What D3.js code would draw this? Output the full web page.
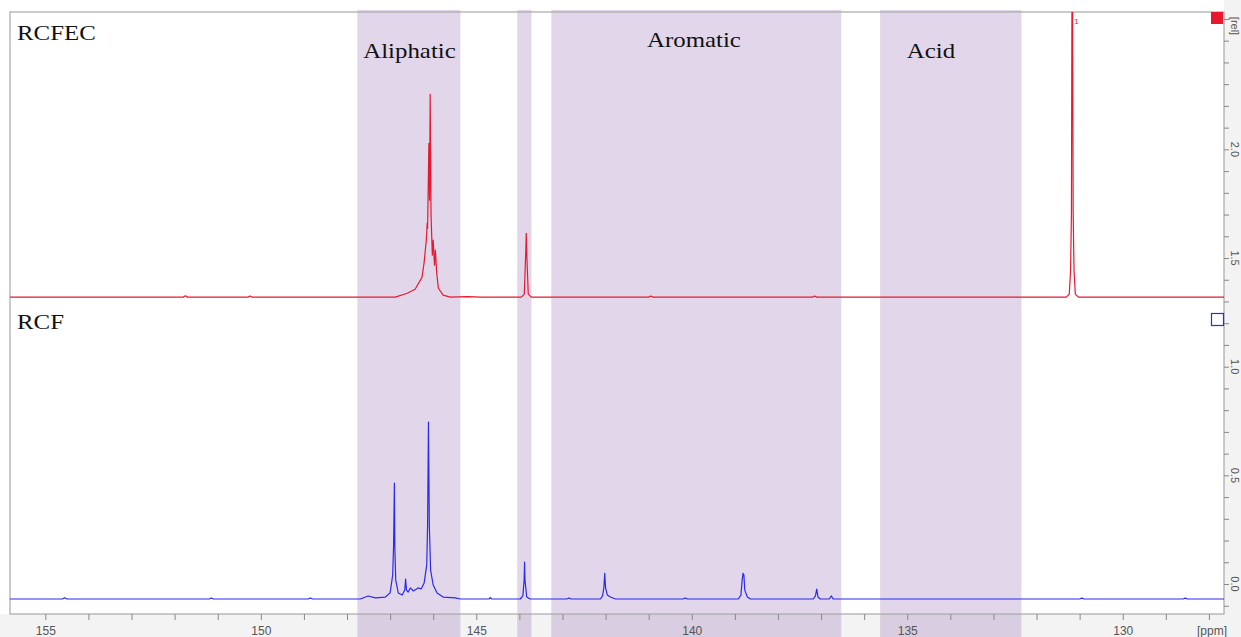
<!DOCTYPE html>
<html>
<head>
<meta charset="utf-8">
<script src="https://cdn.jsdelivr.net/npm/d3@7"></script>
<style>
  html, body { margin: 0; padding: 0; background: #fff; }
  svg { display: block; }
  .serif { font-family: "Liberation Serif", "Times New Roman", serif; fill: #111; }
  .tick text, .axlab { font-family: "Liberation Sans", Arial, sans-serif; fill: #555; font-size: 12px; }
  .ylab { font-family: "Liberation Sans", Arial, sans-serif; fill: #555; font-size: 11px; }
</style>
</head>
<body>
<svg id="chart" width="1241" height="637"></svg>
<script>
// Shaded chemical-shift regions (ppm)
const bandFrom   = [147.76, 144.05, 143.26, 135.63];
const bandTo     = [145.37, 143.72, 136.53, 132.35];
const bandNames  = ["Aliphatic", "", "Aromatic", "Acid"];
const bandLabelPpm = [146.55, null, 139.95, 134.45];
const bandLabelRel = [1.42, null, 1.47, 1.42];

// RCFEC trace (ppm, rel), stacked above RCF
const rcfec = [
  [155.82, 1.320], [151.8, 1.320], [151.75, 1.326], [151.7, 1.320], [150.3, 1.320], [150.25, 1.325],
  [150.2, 1.320], [146.88, 1.320], [146.60, 1.338], [146.42, 1.356], [146.26, 1.411], [146.21, 1.480],
  [146.16, 1.582], [146.14, 1.660], [146.13, 1.637], [146.10, 2.028], [146.085, 1.766], [146.07, 2.253],
  [146.05, 1.697], [146.02, 1.513], [146.00, 1.582], [145.97, 1.467], [145.95, 1.536], [145.92, 1.434],
  [145.88, 1.361], [145.77, 1.329], [145.60, 1.320], [145.2, 1.322], [144.9, 1.320],
  [143.956, 1.320], [143.886, 1.334], [143.851, 1.536], [143.840, 1.614], [143.828, 1.513],
  [143.794, 1.334], [143.724, 1.320], [141.0, 1.320], [140.95, 1.325], [140.9, 1.320],
  [137.2, 1.320], [137.15, 1.325], [137.1, 1.320], [131.31, 1.320], [131.24, 1.334], [131.21, 1.444],
  [131.19, 1.706], [131.172, 3.200], [131.15, 1.706], [131.13, 1.444], [131.10, 1.334], [131.03, 1.320],
  [127.65, 1.320]
];

// RCF trace (ppm, rel)
const rcf = [
  [155.82, -0.069], [154.6, -0.069], [154.55, -0.063], [154.5, -0.069], [151.2, -0.069], [151.15, -0.064],
  [151.1, -0.069], [148.9, -0.069], [148.85, -0.064], [148.8, -0.069],
  [147.69, -0.069], [147.51, -0.055], [147.34, -0.064], [147.11, -0.060], [147.00, -0.041],
  [146.94, 0.041], [146.92, 0.170], [146.90, 0.464], [146.89, 0.170], [146.87, 0.018], [146.81, -0.041],
  [146.72, -0.051], [146.66, -0.028], [146.64, 0.023], [146.62, -0.028], [146.58, -0.037],
  [146.53, -0.018], [146.46, -0.032], [146.35, -0.018], [146.28, -0.023], [146.21, 0.005],
  [146.15, 0.087], [146.13, 0.271], [146.11, 0.745], [146.09, 0.271], [146.06, 0.064], [146.00, -0.005],
  [145.91, -0.041], [145.77, -0.060], [145.49, -0.064], [145.37, -0.069], [144.70, -0.069],
  [144.68, -0.062], [144.64, -0.069], [143.98, -0.069], [143.92, -0.055], [143.89, 0.018],
  [143.88, 0.101], [143.87, 0.018], [143.83, -0.060], [143.75, -0.069], [142.9, -0.069],
  [142.85, -0.064], [142.8, -0.069], [142.12, -0.069], [142.07, -0.055], [142.04, -0.018],
  [142.02, 0.049], [142.00, -0.018], [141.96, -0.051], [141.89, -0.060], [141.77, -0.069],
  [140.2, -0.069], [140.15, -0.064], [140.1, -0.069], [138.92, -0.069], [138.86, -0.051],
  [138.83, 0.018], [138.81, 0.049], [138.79, 0.041], [138.77, -0.028], [138.71, -0.060],
  [138.64, -0.069], [137.18, -0.069], [137.13, -0.055], [137.10, -0.023], [137.07, -0.060],
  [137.02, -0.069], [136.81, -0.069], [136.76, -0.055], [136.72, -0.069], [131.0, -0.069],
  [130.95, -0.065], [130.9, -0.069], [128.6, -0.069], [128.55, -0.065], [128.5, -0.069], [127.65, -0.069]
];

const ppmTicks = d3.range(128, 156);
const relTicks = d3.range(-1, 27).map(i => i / 10);
const relLabels = [0.0, 0.5, 1.0, 1.5, 2.0];

const W = 1241, H = 637;
const plot = { left: 10, right: 1224, top: 12, bottom: 614 };

const x = d3.scaleLinear().domain([155.82, 127.65]).range([plot.left, plot.right]);
const y = d3.scaleLinear().domain([-0.138, 2.632]).range([plot.bottom, plot.top]);

const svg = d3.select("#chart");

// axis strips
svg.append("rect").attr("x", 0).attr("y", plot.bottom).attr("width", W).attr("height", H - plot.bottom).attr("fill", "#f3f3f3");
svg.append("rect").attr("x", plot.right).attr("y", 0).attr("width", W - plot.right).attr("height", H).attr("fill", "#f3f3f3");
svg.append("rect").attr("x", 0).attr("y", 0).attr("width", plot.right).attr("height", plot.top).attr("fill", "#fff");

// region shading
svg.append("g").selectAll("rect").data(bandFrom).join("rect")
  .attr("x", (d, i) => x(d))
  .attr("width", (d, i) => x(bandTo[i]) - x(d))
  .attr("y", 10).attr("height", H - 10)
  .attr("fill", "rgb(160,120,190)").attr("fill-opacity", 0.3);

// frame
svg.append("rect").attr("x", plot.left).attr("y", plot.top)
  .attr("width", plot.right - plot.left).attr("height", plot.bottom - plot.top)
  .attr("fill", "none").attr("stroke", "#a8a8a8").attr("stroke-width", 1.2);

// bottom ppm axis
const xAxis = d3.axisBottom(x).tickValues(ppmTicks).tickSize(6).tickPadding(6)
  .tickFormat(d => d % 5 === 0 ? d : "");
const gx = svg.append("g").attr("transform", `translate(0,${plot.bottom})`).call(xAxis);
gx.select(".domain").remove();
gx.selectAll(".tick line").attr("stroke", "#888");
svg.append("text").attr("class", "axlab").attr("x", 1212).attr("y", 635)
  .attr("text-anchor", "middle").text("[ppm]");

// right intensity axis
const yAxis = d3.axisRight(y).tickValues(relTicks).tickSize(5).tickFormat("");
const gy = svg.append("g").attr("transform", `translate(${plot.right},0)`).call(yAxis);
gy.select(".domain").remove();
gy.selectAll(".tick line").attr("stroke", "#888");
svg.append("g").selectAll("text").data(relLabels).join("text")
  .attr("class", "ylab")
  .attr("transform", d => `translate(1231,${y(d)}) rotate(90)`)
  .attr("text-anchor", "middle")
  .text(d => d3.format(".1f")(d));
svg.append("text").attr("class", "ylab")
  .attr("transform", `translate(1231,26) rotate(90)`)
  .attr("text-anchor", "middle").text("[rel]");

// spectra
svg.append("clipPath").attr("id", "plotclip").append("rect")
  .attr("x", plot.left).attr("y", plot.top)
  .attr("width", plot.right - plot.left).attr("height", plot.bottom - plot.top);
const line = d3.line().x(d => x(d[0])).y(d => y(d[1]));
const traces = svg.append("g").attr("clip-path", "url(#plotclip)");
traces.append("path").datum(rcf).attr("d", line)
  .attr("fill", "none").attr("stroke", "#2a2aee").attr("stroke-width", 1.2).attr("stroke-linejoin", "round");
traces.append("path").datum(rcfec).attr("d", line)
  .attr("fill", "none").attr("stroke", "#e8182e").attr("stroke-width", 1.2).attr("stroke-linejoin", "round");

// peak tag on the clipped RCFEC signal
svg.append("text").attr("x", x(131.172) + 2).attr("y", 24)
  .attr("font-family", "Liberation Sans, Arial, sans-serif").attr("font-size", 8)
  .attr("fill", "#e8182e").text("1");

// trace markers
svg.append("rect").attr("x", 1211).attr("y", 12).attr("width", 12).attr("height", 12).attr("fill", "#e8182e");
svg.append("rect").attr("x", 1211.5).attr("y", 313.5).attr("width", 12).attr("height", 12)
  .attr("fill", "none").attr("stroke", "#2a2aee").attr("stroke-width", 1.2);

// trace names
const stretch = 1.13;
function serifLabel(px, py, txt, anchor) {
  svg.append("text").attr("class", "serif")
    .attr("transform", `translate(${px},${py}) scale(${stretch},1)`)
    .attr("font-size", 22).attr("text-anchor", anchor).text(txt);
}
serifLabel(17, 40, "RCFEC", "start");
serifLabel(17, 329, "RCF", "start");

// region names
bandNames.forEach((n, i) => {
  if (!n) return;
  serifLabel(x(bandLabelPpm[i]), y(bandLabelRel[i] + 1.0), n, "middle");
});
</script>
</body>
</html>
